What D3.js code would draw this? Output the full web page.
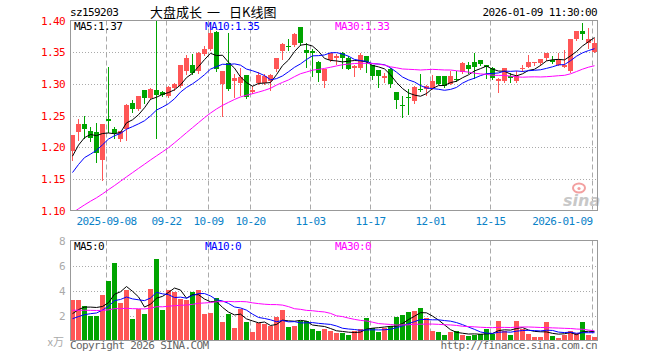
<!DOCTYPE html>
<html>
<head>
<meta charset="utf-8">
<script src="https://cdn.jsdelivr.net/npm/d3@7"></script>
<style>
body{margin:0;background:#fff}
svg{display:block}
text{font-family:"DejaVu Sans Mono",monospace;font-size:11px;letter-spacing:-0.6px}
</style>
</head>
<body>
<svg id="chart" width="660" height="360"></svg>
<script>
// trading days shown on the chart
const dates=["2025-08-29",
"2025-09-01","2025-09-02","2025-09-03","2025-09-04","2025-09-05","2025-09-08","2025-09-09","2025-09-10","2025-09-11","2025-09-12",
"2025-09-15","2025-09-16","2025-09-17","2025-09-18","2025-09-19","2025-09-22","2025-09-23","2025-09-24","2025-09-25","2025-09-26",
"2025-09-29","2025-09-30","2025-10-09","2025-10-10","2025-10-13","2025-10-14","2025-10-15","2025-10-16","2025-10-17",
"2025-10-20","2025-10-21","2025-10-22","2025-10-23","2025-10-24","2025-10-27","2025-10-28","2025-10-29","2025-10-30","2025-10-31",
"2025-11-03","2025-11-04","2025-11-05","2025-11-06","2025-11-07","2025-11-10","2025-11-11","2025-11-12","2025-11-13","2025-11-14",
"2025-11-17","2025-11-18","2025-11-19","2025-11-20","2025-11-21","2025-11-24","2025-11-25","2025-11-26","2025-11-27","2025-11-28",
"2025-12-01","2025-12-02","2025-12-03","2025-12-04","2025-12-05","2025-12-08","2025-12-09","2025-12-10","2025-12-11","2025-12-12",
"2025-12-15","2025-12-16","2025-12-17","2025-12-18","2025-12-19","2025-12-22","2025-12-23","2025-12-24","2025-12-25","2025-12-26",
"2025-12-29","2025-12-30","2025-12-31","2026-01-05","2026-01-06","2026-01-07","2026-01-08","2026-01-09"];

const open=[1.194,1.224,1.237,1.226,1.224,1.180,1.245,1.228,1.213,1.228,
1.270,1.260,1.291,1.278,1.290,1.287,1.281,1.293,1.297,1.320,
1.329,1.320,1.347,1.355,1.382,1.300,1.333,1.304,1.302,1.314,
1.287,1.302,1.302,1.304,1.323,1.352,1.360,1.361,1.390,1.353,
1.352,1.334,1.305,1.338,1.341,1.349,1.341,1.325,1.325,1.344,
1.330,1.322,1.309,1.323,1.287,1.267,1.279,1.273,1.292,1.292,
1.293,1.312,1.312,1.300,1.308,1.318,1.330,1.335,1.338,1.330,
1.325,1.304,1.304,1.313,1.304,1.323,1.327,1.333,1.333,1.341,
1.338,1.330,1.327,1.320,1.370,1.383,1.364,1.351];
const high=[1.220,1.245,1.250,1.232,1.238,1.236,1.326,1.232,1.226,1.268,
1.274,1.281,1.291,1.293,1.400,1.288,1.297,1.302,1.330,1.346,
1.347,1.350,1.360,1.397,1.384,1.320,1.380,1.316,1.325,1.314,
1.297,1.318,1.315,1.316,1.341,1.364,1.370,1.380,1.390,1.365,
1.355,1.336,1.323,1.349,1.347,1.351,1.344,1.330,1.348,1.344,
1.330,1.322,1.317,1.325,1.287,1.281,1.292,1.297,1.316,1.298,
1.314,1.313,1.313,1.321,1.321,1.335,1.335,1.349,1.338,1.330,
1.326,1.309,1.325,1.317,1.320,1.330,1.346,1.335,1.339,1.349,
1.344,1.348,1.354,1.370,1.384,1.396,1.388,1.372];
const low=[1.180,1.212,1.215,1.210,1.177,1.148,1.224,1.215,1.210,1.212,
1.255,1.259,1.269,1.276,1.215,1.281,1.279,1.291,1.295,1.316,
1.315,1.317,1.346,1.354,1.321,1.250,1.291,1.279,1.283,1.278,
1.286,1.300,1.300,1.291,1.321,1.339,1.354,1.360,1.361,1.326,
1.312,1.304,1.295,1.336,1.332,1.325,1.323,1.312,1.324,1.319,
1.307,1.295,1.303,1.295,1.262,1.248,1.253,1.269,1.288,1.283,
1.292,1.300,1.295,1.299,1.304,1.317,1.317,1.309,1.329,1.309,
1.307,1.287,1.303,1.303,1.303,1.320,1.326,1.330,1.330,1.338,
1.333,1.329,1.327,1.318,1.369,1.370,1.356,1.350];
const close=[1.219,1.237,1.229,1.215,1.191,1.236,1.241,1.223,1.225,1.267,
1.260,1.281,1.278,1.292,1.283,1.283,1.295,1.300,1.330,1.341,
1.317,1.348,1.355,1.380,1.323,1.320,1.292,1.309,1.310,1.279,
1.291,1.314,1.312,1.314,1.341,1.363,1.358,1.379,1.364,1.348,
1.349,1.317,1.323,1.348,1.344,1.341,1.323,1.328,1.346,1.335,
1.313,1.312,1.312,1.299,1.275,1.265,1.277,1.295,1.290,1.296,
1.305,1.300,1.296,1.313,1.306,1.333,1.323,1.327,1.331,1.326,
1.309,1.308,1.325,1.309,1.312,1.325,1.335,1.334,1.339,1.348,
1.334,1.338,1.330,1.370,1.383,1.378,1.371,1.364];
// volume, 万
const volume=[3.23,3.23,2.80,2.00,1.95,3.63,4.74,6.18,2.99,4.05,
1.72,2.51,2.11,4.10,6.50,2.43,4.08,3.87,3.31,3.23,
3.87,4.03,2.14,2.22,3.39,1.48,2.14,1.00,2.54,1.48,
0.68,1.37,1.32,1.16,1.87,2.43,1.08,1.16,1.53,1.53,
0.89,0.76,0.89,0.73,0.62,0.62,0.47,0.76,0.89,1.80,
1.00,0.68,1.02,1.16,1.87,2.06,2.27,2.35,2.59,1.80,
0.76,0.68,0.41,0.68,0.73,0.41,0.36,0.47,0.52,0.89,
0.55,1.53,0.78,0.41,1.53,0.94,0.52,0.25,0.25,1.48,
0.36,0.20,0.41,0.73,0.62,1.48,0.47,0.25];
// estimated sessions before the first bar, only used for the moving averages
const priorCloses=[1.04,1.045,1.04,1.03,1.05,1.04,1.03,1.02,1.06,1.06,
1.08,1.08,1.09,1.09,1.09,1.10,1.07,1.09,1.10,1.08,
1.11,1.12,1.16,1.13,1.15,1.15,1.17,1.19,1.20];
const priorVolumes=[3.2,2.9,2.2,2.2,3.4,3.5,3.3,3.0,3.2,2.6,
2.8,2.5,2.4,2.9,2.6,2.7,2.5,2.4,2.6,2.3,
1.5,1.3,1.2,1.4,1.3,1.6,1.8,2.0,2.1];

const priceTicks=[1.10,1.15,1.20,1.25,1.30,1.35,1.40];
const volTicks=[2,4,6,8];
const dateTicks=["2025-09-08","2025-09-22","2025-10-09","2025-10-20","2025-11-03","2025-11-17","2025-12-01","2025-12-15","2026-01-09"];
const dateTickLabels=["2025-09-08","09-22","10-09","10-20","11-03","11-17","12-01","12-15","2026-01-09"];
const maPeriods=[5,10,30];
const maColors=["#000","#00f","#f0f"];
const maLabels=["MA5:1.37","MA10:1.35","MA30:1.33"];
const volMaLabels=["MA5:0","MA10:0","MA30:0"];
const titleParts=["大盘成长","一","日K线图"];

const RED="#ff5656",GREEN="#00a400",GRID="#aaa",FRAME="#999";
const L=70,R=598,pTop=20.5,pBot=210.5,vTop=240.5,vBot=340.5;

const svg=d3.select("#chart");
const x=d3.scaleBand().domain(dates).range([L,R]);
const yP=d3.scaleLinear().domain([1.10,1.40]).range([pBot,pTop]);
const yV=d3.scaleLinear().domain([0,8]).range([vBot,vTop]);

function movingAvg(vals,prior,n){
    const all=prior.concat(vals);
    return vals.map((v,i)=>{
        const end=prior.length+i+1;
        return d3.mean(all.slice(end-n,end));
    });
}

const bars=dates.map((d,i)=>({date:d,o:open[i],h:high[i],l:low[i],c:close[i],v:volume[i],up:close[i]>=open[i]}));

// clip paths
const defs=svg.append("defs");
defs.append("clipPath").attr("id","clipP").append("rect").attr("x",L).attr("y",pTop).attr("width",R-L).attr("height",pBot-pTop);
defs.append("clipPath").attr("id","clipV").append("rect").attr("x",L).attr("y",vTop).attr("width",R-L).attr("height",vBot-vTop);

// horizontal grid
svg.append("g").selectAll("line").data(priceTicks.slice(1,-1)).join("line")
    .attr("x1",L).attr("x2",R).attr("y1",d=>Math.round(yP(d))+0.5).attr("y2",d=>Math.round(yP(d))+0.5)
    .attr("stroke",GRID).attr("stroke-dasharray","1,2");
svg.append("g").selectAll("line").data(volTicks.slice(0,-1)).join("line")
    .attr("x1",L).attr("x2",R).attr("y1",d=>Math.round(yV(d))+0.5).attr("y2",d=>Math.round(yV(d))+0.5)
    .attr("stroke",GRID).attr("stroke-dasharray","1,2");

// vertical dashed grid, both panels
const vg=svg.append("g");
[[pTop,pBot],[vTop,vBot]].forEach(([a,b])=>{
    vg.append("g").selectAll("line").data(dateTicks).join("line")
        .attr("x1",d=>x(d)+0.5).attr("x2",d=>x(d)+0.5).attr("y1",a).attr("y2",b)
        .attr("stroke",GRID).attr("stroke-dasharray","5,3");
});

// watermark
const wm=svg.append("g");
wm.append("ellipse").attr("cx",579).attr("cy",188).attr("rx",6).attr("ry",4.5)
    .attr("fill","none").attr("stroke","#f3a0a0").attr("stroke-width",2);
wm.append("circle").attr("cx",579).attr("cy",188.5).attr("r",1.6).attr("fill","#f3a0a0");
wm.append("text").attr("x",563).attr("y",206).text("sina")
    .style("font-family","DejaVu Sans").style("font-size","16px").style("font-weight","bold")
    .style("font-style","italic").style("letter-spacing","0px").attr("fill","#c8c8c8");

// candles
const cg=svg.append("g").attr("clip-path","url(#clipP)");
cg.selectAll("line.wick").data(bars).join("line").attr("class","wick")
    .attr("x1",d=>x(d.date)+2.5).attr("x2",d=>x(d.date)+2.5)
    .attr("y1",d=>Math.round(yP(d.h))).attr("y2",d=>Math.round(yP(d.l))+1)
    .attr("stroke",d=>d.up?RED:GREEN);
cg.selectAll("rect.body").data(bars).join("rect").attr("class","body")
    .attr("x",d=>x(d.date)).attr("width",5)
    .attr("y",d=>Math.round(yP(Math.max(d.o,d.c))))
    .attr("height",d=>Math.max(1,Math.round(yP(Math.min(d.o,d.c)))-Math.round(yP(Math.max(d.o,d.c)))))
    .attr("fill",d=>d.up?RED:GREEN);

// volume bars
const vb=svg.append("g").attr("clip-path","url(#clipV)");
vb.selectAll("rect").data(bars).join("rect")
    .attr("x",d=>x(d.date)).attr("width",5)
    .attr("y",d=>Math.round(yV(d.v))).attr("height",d=>vBot-Math.round(yV(d.v)))
    .attr("fill",d=>d.up?RED:GREEN);

// moving averages
maPeriods.forEach((n,k)=>{
    const pm=movingAvg(close,priorCloses,n);
    const vm=movingAvg(volume,priorVolumes,n);
    svg.append("path").attr("clip-path","url(#clipP)").datum(pm)
        .attr("d",d3.line().x((d,i)=>x(dates[i])+2.5).y(d=>yP(d)))
        .attr("fill","none").attr("stroke",maColors[k]).attr("stroke-width",1);
    svg.append("path").attr("clip-path","url(#clipV)").datum(vm)
        .attr("d",d3.line().x((d,i)=>x(dates[i])+2.5).y(d=>yV(d)))
        .attr("fill","none").attr("stroke",maColors[k]).attr("stroke-width",1);
});

// frames
svg.append("rect").attr("x",L+0.5).attr("y",pTop).attr("width",R-L-1).attr("height",pBot-pTop)
    .attr("fill","none").attr("stroke",FRAME);
svg.append("rect").attr("x",L+0.5).attr("y",vTop).attr("width",R-L-1).attr("height",vBot-vTop)
    .attr("fill","none").attr("stroke",FRAME);

// axes
const ay=svg.append("g").attr("transform",`translate(${L},0)`)
    .call(d3.axisLeft(yP).tickValues(priceTicks).tickFormat(d3.format(".2f")).tickSize(0).tickPadding(5));
ay.select(".domain").remove();
ay.selectAll("text").attr("fill","#f00");
ay.attr("font-family",null).attr("font-size",null);

const av=svg.append("g").attr("transform",`translate(${L},0)`)
    .call(d3.axisLeft(yV).tickValues(volTicks).tickFormat(d3.format("d")).tickSize(0).tickPadding(5));
av.select(".domain").remove();
av.selectAll("text").attr("fill","#aaa");
av.attr("font-family",null).attr("font-size",null);

const ax=svg.append("g").attr("transform","translate(0,225)")
    .call(d3.axisBottom(x).tickValues(dateTicks).tickSize(0)
        .tickFormat(d=>dateTickLabels[dateTicks.indexOf(d)]));
ax.select(".domain").remove();
ax.attr("font-family",null).attr("font-size",null);
ax.selectAll("text").attr("fill","#0a82c8").attr("y",0).attr("dy",null)
    .attr("x",-x.bandwidth()/2+0.5)
    .attr("text-anchor",(d,i,n)=>i===n.length-1?"end":"middle");

// header
svg.append("text").attr("x",70).attr("y",16).text("sz159203");
const titleX=[150,207,229];
titleParts.forEach((t,k)=>svg.append("text").attr("x",titleX[k]).attr("y",16.5).text(t)
    .style("font-family","'Noto Sans CJK SC'").style("font-size","13px").style("letter-spacing","0px"));
svg.append("text").attr("x",597).attr("y",16).attr("text-anchor","end").text("2026-01-09 11:30:00");

const labelX=[74,205,335];
maLabels.forEach((t,k)=>svg.append("text").attr("x",labelX[k]).attr("y",29.5).attr("fill",maColors[k]).text(t));
volMaLabels.forEach((t,k)=>svg.append("text").attr("x",labelX[k]).attr("y",249.5).attr("fill",maColors[k]).text(t));

svg.append("text").attr("x",64).attr("y",346).attr("text-anchor","end").attr("fill","#aaa").text("x万")
    .style("font-family","'Noto Sans CJK SC'").style("font-size","11px").style("letter-spacing","0px");
svg.append("text").attr("x",70).attr("y",348.5).attr("fill","#666").text("Copyright 2026 SINA.COM");
svg.append("text").attr("x",597).attr("y",348.5).attr("text-anchor","end").attr("fill","#666").text("http://finance.sina.com.cn");
</script>
</body>
</html>
